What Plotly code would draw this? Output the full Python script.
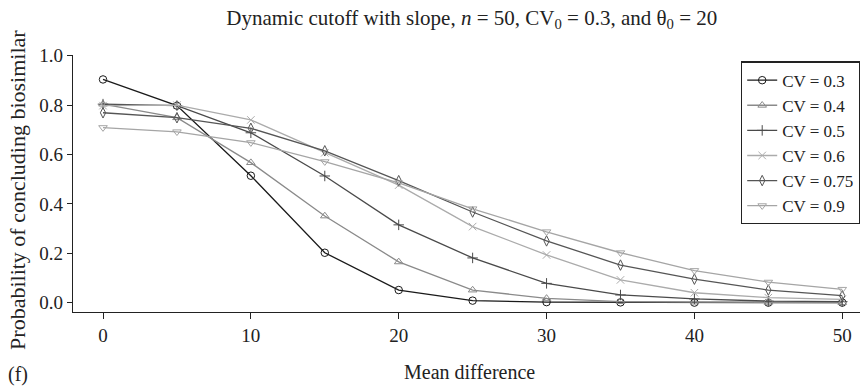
import plotly.graph_objects as go

mean_diff = [0, 5, 10, 15, 20, 25, 30, 35, 40, 45, 50]

cv_labels = ["CV = 0.3", "CV = 0.4", "CV = 0.5", "CV = 0.6", "CV = 0.75", "CV = 0.9"]

p_cv03 = [0.904, 0.798, 0.514, 0.202, 0.051, 0.008, 0.002, 0.001, 0.0, 0.0, 0.0]
p_cv04 = [0.804, 0.749, 0.567, 0.351, 0.165, 0.051, 0.017, 0.004, 0.002, 0.001, 0.0]
p_cv05 = [0.804, 0.798, 0.688, 0.513, 0.315, 0.181, 0.078, 0.031, 0.015, 0.006, 0.004]
p_cv06 = [0.798, 0.800, 0.740, 0.607, 0.476, 0.308, 0.193, 0.092, 0.040, 0.020, 0.013]
p_cv075 = [0.769, 0.749, 0.706, 0.615, 0.494, 0.367, 0.250, 0.152, 0.095, 0.051, 0.028]
p_cv09 = [0.709, 0.692, 0.648, 0.571, 0.485, 0.380, 0.287, 0.202, 0.130, 0.083, 0.054]

series = [p_cv03, p_cv04, p_cv05, p_cv06, p_cv075, p_cv09]
colors = ["#1a1a1a", "#8a8a8a", "#4a4a4a", "#ababab", "#555555", "#a5a5a5"]
symbols = ["circle-open", "triangle-up-open", "cross-thin-open", "x-thin-open",
           "diamond-tall-open", "triangle-down-open"]

x_ticks = [0, 10, 20, 30, 40, 50]
y_ticks = [0.0, 0.2, 0.4, 0.6, 0.8, 1.0]

FONT = "Liberation Serif"

fig = go.Figure()
for lab, vals, col, sym in zip(cv_labels, series, colors, symbols):
    fig.add_trace(go.Scatter(
        x=mean_diff, y=vals, name=lab, mode="lines+markers",
        line=dict(color=col, width=1.3),
        marker=dict(symbol=sym, size=7.5, color=col, line=dict(color=col, width=1)),
    ))

fig.update_layout(
    width=868, height=386,
    margin=dict(l=73, r=8, t=55, b=74, autoexpand=False),
    paper_bgcolor="white", plot_bgcolor="white",
    font=dict(family=FONT, size=19, color="#222"),
    title=dict(
        text="Dynamic cutoff with slope, <i>n</i> = 50, CV<sub>0</sub> = 0.3, and θ<sub>0</sub> = 20",
        x=0.5435, xanchor="center", y=0.955, yanchor="middle",
        font=dict(family=FONT, size=21, color="#222"),
    ),
    xaxis=dict(
        range=[-2.03, 51.2], tickvals=x_ticks, ticktext=[str(v) for v in x_ticks],
        showline=True, linecolor="#222", linewidth=1.2, mirror=False,
        ticks="outside", ticklen=6, tickcolor="#222", tickwidth=1.2,
        showgrid=False, zeroline=False,
        tickfont=dict(family=FONT, size=19),
    ),
    yaxis=dict(
        range=[-0.038, 1.003], tickvals=y_ticks, ticktext=["%.1f" % v for v in y_ticks],
        showline=True, linecolor="#222", linewidth=1.2, mirror=False,
        ticks="outside", ticklen=5, tickcolor="#222", tickwidth=1.2,
        showgrid=False, zeroline=False,
        tickfont=dict(family=FONT, size=19),
    ),
    legend=dict(
        x=1.0, xanchor="right", y=0.975, yanchor="top",
        bordercolor="#222", borderwidth=1.2, bgcolor="white",
        font=dict(family=FONT, size=17, color="#222"),
        itemwidth=30, tracegroupgap=0,
    ),
    showlegend=True,
)

fig.add_annotation(
    text="Mean difference", xref="paper", yref="paper", x=0.504, y=-0.2335,
    xanchor="center", yanchor="middle", showarrow=False,
    font=dict(family=FONT, size=20, color="#222"),
)
fig.add_annotation(
    text="Probability of concluding biosimilar", xref="paper", yref="paper",
    x=-0.0699, y=0.475, xanchor="center", yanchor="middle", showarrow=False,
    textangle=-90, font=dict(family=FONT, size=22, color="#222"),
)
fig.add_annotation(
    text="(f)", xref="paper", yref="paper", x=-0.085, y=-0.245,
    xanchor="left", yanchor="middle", showarrow=False,
    font=dict(family=FONT, size=20, color="#222"),
)

fig.write_html("out.html")
